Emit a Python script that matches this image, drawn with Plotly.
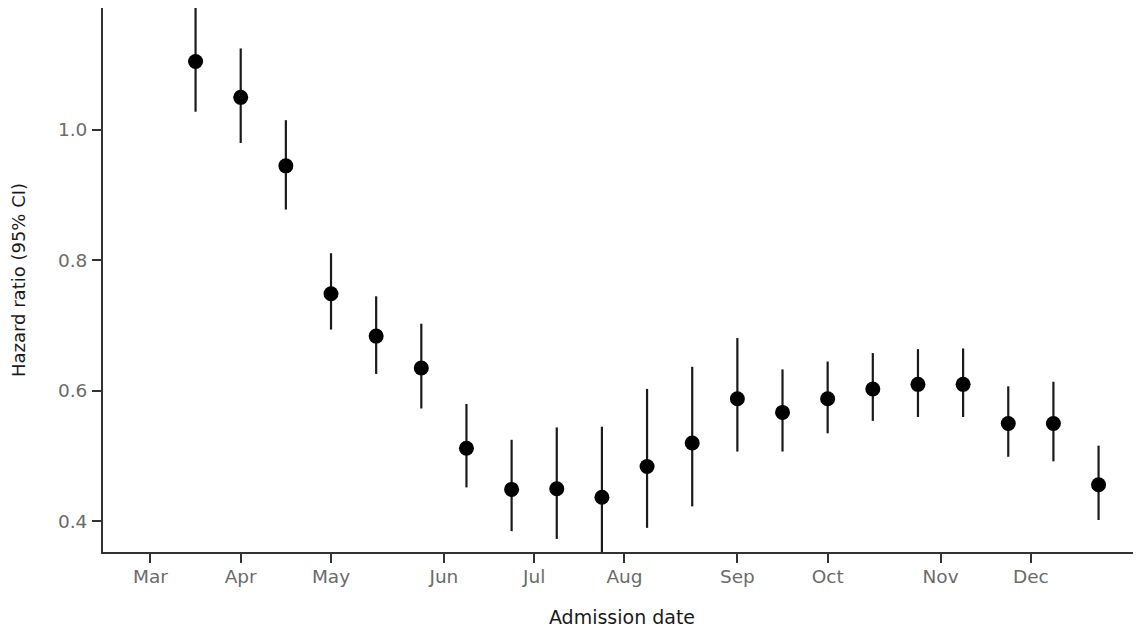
import plotly.graph_objects as go

# Biweekly admission periods (week number of the year)
week = [11, 13, 15, 17, 19, 21, 23, 25, 27, 29, 31, 33, 35, 37, 39, 41, 43, 45, 47, 49, 51]
hr = [1.105, 1.050, 0.945, 0.749, 0.684, 0.635, 0.512, 0.449, 0.450, 0.437, 0.484,
      0.520, 0.588, 0.567, 0.588, 0.603, 0.610, 0.610, 0.550, 0.550, 0.456]
ci_low = [1.028, 0.980, 0.878, 0.694, 0.626, 0.573, 0.452, 0.385, 0.373, 0.330, 0.390,
          0.423, 0.507, 0.507, 0.535, 0.554, 0.560, 0.560, 0.499, 0.492, 0.402]
ci_high = [1.200, 1.125, 1.015, 0.811, 0.745, 0.703, 0.580, 0.525, 0.544, 0.545, 0.603,
           0.637, 0.681, 0.633, 0.645, 0.658, 0.664, 0.665, 0.607, 0.614, 0.516]

month_week = [9, 13, 17, 22, 26, 30, 35, 39, 44, 48]
month_label = ["Mar", "Apr", "May", "Jun", "Jul", "Aug", "Sep", "Oct", "Nov", "Dec"]
y_ticks = [0.4, 0.6, 0.8, 1.0]

err_plus = [h - m for h, m in zip(ci_high, hr)]
err_minus = [m - l for m, l in zip(hr, ci_low)]

fig = go.Figure()
fig.add_trace(go.Scatter(
    x=week, y=hr, mode="markers",
    marker=dict(color="black", size=15),
    error_y=dict(type="data", symmetric=False, array=err_plus, arrayminus=err_minus,
                 color="#1a1a1a", thickness=2.2, width=0),
    showlegend=False,
))

font_family = "DejaVu Sans"
# the page body has a default 8px margin, so the figure is shrunk by that amount
fig.update_layout(
    width=1133, height=625,
    margin=dict(l=95, r=0, t=0, b=81),
    paper_bgcolor="white", plot_bgcolor="white",
    font=dict(family=font_family, size=18, color="#1a1a1a"),
    xaxis=dict(
        range=[6.90, 52.88], showgrid=False, zeroline=False,
        showline=True, linecolor="#333333", linewidth=1.8,
        tickmode="array", tickvals=month_week, ticktext=month_label,
        ticks="outside", ticklen=9, tickwidth=1.6, tickcolor="#333333",
        ticklabelstandoff=-2,
        tickfont=dict(size=18.5, color="#6b6b6b", family=font_family),
        title=dict(text="Admission date", standoff=25,
                   font=dict(size=19, color="#1a1a1a", family=font_family)),
    ),
    yaxis=dict(
        range=[0.353, 1.187], showgrid=False, zeroline=False,
        showline=True, linecolor="#333333", linewidth=1.8,
        tickmode="array", tickvals=y_ticks, ticktext=[f"{v:.1f}" for v in y_ticks],
        ticks="outside", ticklen=9, tickwidth=1.6, tickcolor="#333333",
        ticklabelstandoff=1,
        tickfont=dict(size=18.5, color="#6b6b6b", family=font_family),
        title=dict(text="Hazard ratio (95% CI)", standoff=28,
                   font=dict(size=18, color="#1a1a1a", family=font_family)),
    ),
)

fig.write_html("out.html")
